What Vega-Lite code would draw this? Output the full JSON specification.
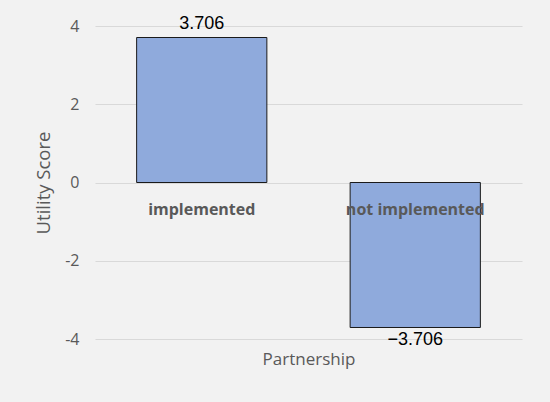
{
  "$schema": "https://vega.github.io/schema/vega-lite/v6.json",
  "width": 427,
  "height": 313,
  "autosize": {"type": "none"},
  "padding": {"left": 95, "top": 26, "right": 28, "bottom": 63},
  "background": "#f2f2f2",
  "config": {"view": {"stroke": null}, "font": "Open Sans"},
  "data": {"values": [
    {"Partnership": "implemented", "value": 3.706},
    {"Partnership": "not implemented", "value": -3.706}
  ]},
  "encoding": {
    "x": {
      "field": "Partnership", "type": "nominal", "sort": null,
      "scale": {"paddingInner": 0, "paddingOuter": 0},
      "axis": {"labels": false, "ticks": false, "domain": false, "grid": false,
        "title": "Partnership", "titleFontSize": 17, "titleFontWeight": "normal",
        "titleColor": "#595959", "titlePadding": 12, "titleFont": "Open Sans"}
    }
  },
  "layer": [
    {
      "mark": {"type": "bar", "fill": "#8faadc", "stroke": "#1a1a1a", "strokeWidth": 1, "width": {"band": 0.61}},
      "encoding": {
        "y": {"field": "value", "type": "quantitative",
          "scale": {"domain": [-4, 4], "nice": false, "zero": true},
          "axis": {"values": [-4, -2, 0, 2, 4], "labelExpr": "'' + datum.value",
            "ticks": false, "domain": false, "grid": true, "gridColor": "#d9d9d9", "gridWidth": 1,
            "labelColor": "#595959", "labelFontSize": 16, "labelPadding": 16, "labelFont": "Open Sans",
            "title": "Utility Score", "titleFontSize": 18.5, "titleFontWeight": "normal",
            "titleColor": "#595959", "titlePadding": 11, "titleFont": "Open Sans"}
        }
      }
    },
    {
      "transform": [{"filter": "datum.value > 0"}],
      "mark": {"type": "text", "baseline": "bottom", "dy": -5, "font": "Liberation Sans", "fontSize": 18, "color": "#000000"},
      "encoding": {
        "y": {"field": "value", "type": "quantitative"},
        "text": {"field": "value", "type": "quantitative", "format": ".3f"}
      }
    },
    {
      "transform": [{"filter": "datum.value < 0"}],
      "mark": {"type": "text", "baseline": "top", "dy": 4, "font": "Liberation Sans", "fontSize": 18, "color": "#000000"},
      "encoding": {
        "y": {"field": "value", "type": "quantitative"},
        "text": {"field": "value", "type": "quantitative", "format": ".3f"}
      }
    },
    {
      "mark": {"type": "text", "baseline": "middle", "dy": 27, "font": "Open Sans", "fontWeight": "bold", "fontSize": 16, "color": "#595959"},
      "encoding": {
        "y": {"datum": 0, "type": "quantitative"},
        "text": {"field": "Partnership", "type": "nominal"}
      }
    }
  ]
}
